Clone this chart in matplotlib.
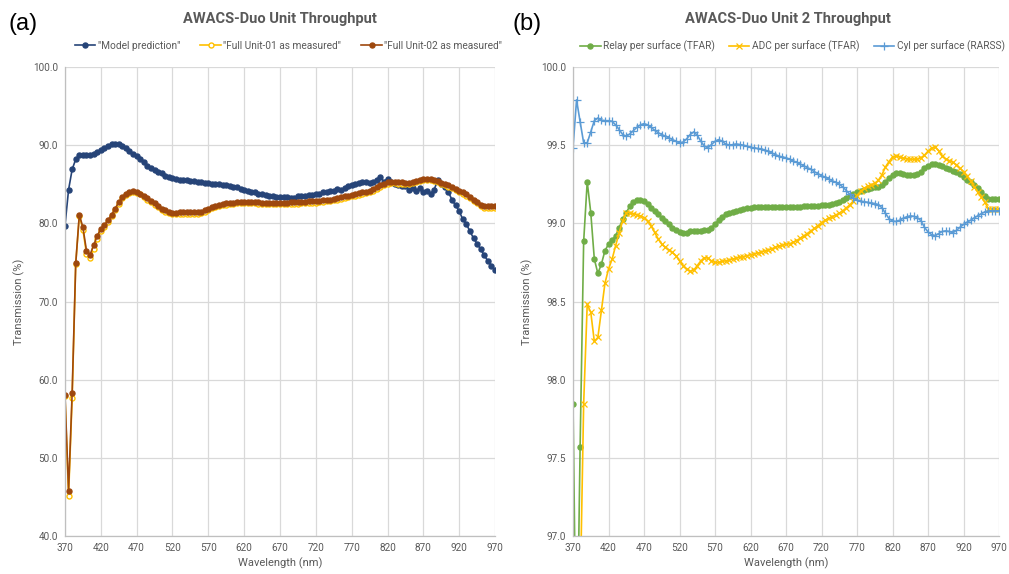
from __future__ import annotations

import matplotlib

matplotlib.use("Agg")
import matplotlib.pyplot as plt  # noqa: E402
import numpy as np  # noqa: E402
from matplotlib.ticker import FormatStrFormatter, MultipleLocator  # noqa: E402

# wavelength grid, 5 nm steps
wavelength = np.arange(370, 971, 5)
wavelength_ticks = [370, 420, 470, 520, 570, 620, 670, 720, 770, 820, 870, 920, 970]

# (a) full-unit throughput, %
model_prediction = [
    79.7, 84.3, 86.9, 88.2, 88.7, 88.8, 88.8, 88.8, 88.9, 89.1,
    89.4, 89.6, 89.9, 90.1, 90.2, 90.1, 89.9, 89.6, 89.3, 88.9,
    88.6, 88.2, 87.8, 87.4, 87.1, 86.8, 86.6, 86.4, 86.1, 85.9,
    85.75, 85.7, 85.6, 85.5, 85.5, 85.4, 85.4, 85.3, 85.35, 85.2,
    85.15, 85.1, 85.05, 85.05, 84.95, 84.9, 84.8, 84.7, 84.6, 84.45,
    84.3, 84.2, 84.05, 83.95, 83.8, 83.7, 83.6, 83.55, 83.45, 83.4,
    83.4, 83.35, 83.35, 83.3, 83.25, 83.45, 83.45, 83.5, 83.6, 83.65,
    83.75, 83.8, 83.95, 84.0, 84.1, 84.2, 84.45, 84.3, 84.5, 84.75,
    84.9, 85.05, 85.15, 85.25, 85.35, 85.2, 85.3, 85.5, 85.9, 85.35,
    85.7, 85.3, 85.1, 84.9, 84.75, 84.8, 84.3, 84.5, 84.2, 84.5,
    84.0, 84.1, 83.8, 84.3, 85.5, 85.0, 84.6, 84.0, 83.0, 82.3,
    81.6, 80.5, 79.9, 79.0, 78.1, 77.4, 76.7, 75.9, 75.2, 74.6,
    74.0,
]
unit01_measured = [
    57.85, 45.1, 57.7, 74.8, 81.0, 79.2, 76.1, 75.6, 76.7, 78.0,
    79.0, 79.5, 80.2, 80.9, 81.7, 82.5, 83.2, 83.65, 83.9, 84.0,
    83.9, 83.7, 83.4, 83.05, 82.7, 82.4, 82.05, 81.75, 81.5, 81.3,
    81.15, 81.15, 81.2, 81.25, 81.25, 81.2, 81.2, 81.2, 81.3, 81.45,
    81.7, 81.95, 82.1, 82.25, 82.3, 82.4, 82.45, 82.5, 82.55, 82.55,
    82.55, 82.55, 82.55, 82.55, 82.52, 82.5, 82.48, 82.47, 82.46, 82.45,
    82.44, 82.45, 82.47, 82.5, 82.52, 82.54, 82.56, 82.58, 82.6, 82.62,
    82.65, 82.7, 82.75, 82.8, 82.85, 82.95, 83.05, 83.15, 83.25, 83.35,
    83.45, 83.55, 83.65, 83.75, 83.85, 84.0, 84.2, 84.45, 84.7, 84.95,
    85.1, 85.15, 85.15, 85.1, 85.1, 85.05, 85.1, 85.2, 85.3, 85.45,
    85.55, 85.6, 85.55, 85.45, 85.3, 85.1, 84.9, 84.7, 84.5, 84.25,
    84.0, 83.75, 83.5, 83.2, 82.85, 82.55, 82.2, 82.0, 82.0, 82.0,
    82.0,
]
unit02_measured = [
    58.1, 45.8, 58.3, 74.9, 81.1, 79.5, 76.5, 76.0, 77.2, 78.4,
    79.3, 79.75, 80.4, 81.1, 81.9, 82.7, 83.35, 83.8, 84.0, 84.1,
    84.0, 83.8, 83.5, 83.2, 82.85, 82.55, 82.2, 81.9, 81.65, 81.5,
    81.35, 81.35, 81.45, 81.5, 81.5, 81.5, 81.45, 81.45, 81.5, 81.65,
    81.85, 82.1, 82.25, 82.4, 82.45, 82.55, 82.6, 82.65, 82.7, 82.7,
    82.7, 82.7, 82.7, 82.7, 82.68, 82.66, 82.65, 82.64, 82.63, 82.62,
    82.6, 82.62, 82.65, 82.7, 82.72, 82.74, 82.76, 82.78, 82.8, 82.82,
    82.85, 82.9, 82.95, 83.0, 83.05, 83.15, 83.25, 83.35, 83.45, 83.55,
    83.65, 83.75, 83.85, 83.95, 84.05, 84.2, 84.4, 84.65, 84.9, 85.1,
    85.25, 85.3, 85.3, 85.25, 85.25, 85.2, 85.2, 85.3, 85.4, 85.55,
    85.65, 85.7, 85.65, 85.55, 85.4, 85.2, 85.0, 84.85, 84.7, 84.45,
    84.2, 83.95, 83.7, 83.4, 83.05, 82.75, 82.4, 82.2, 82.2, 82.2,
    82.2,
]

# (b) Unit 2 per-surface transmission, %
relay_per_surface = [
    97.846, 96.0, 97.567, 98.884, 99.266, 99.069, 98.772, 98.68, 98.74, 98.825,
    98.867, 98.893, 98.92, 98.973, 99.027, 99.069, 99.11, 99.137, 99.148, 99.148,
    99.14, 99.122, 99.1, 99.08, 99.058, 99.037, 99.016, 98.995, 98.973, 98.956,
    98.946, 98.94, 98.94, 98.948, 98.952, 98.954, 98.954, 98.956, 98.96, 98.973,
    98.995, 99.02, 99.04, 99.058, 99.069, 99.075, 99.08, 99.086, 99.092, 99.097,
    99.1, 99.103, 99.105, 99.107, 99.107, 99.107, 99.107, 99.107, 99.107, 99.106,
    99.105, 99.105, 99.105, 99.105, 99.106, 99.108, 99.11, 99.111, 99.112, 99.113,
    99.115, 99.117, 99.12, 99.123, 99.128, 99.137, 99.148, 99.16, 99.175, 99.187,
    99.198, 99.206, 99.213, 99.22, 99.226, 99.23, 99.235, 99.247, 99.265, 99.29,
    99.31, 99.322, 99.323, 99.317, 99.312, 99.31, 99.311, 99.317, 99.33, 99.352,
    99.367, 99.378, 99.381, 99.374, 99.364, 99.355, 99.346, 99.337, 99.327, 99.315,
    99.298, 99.28, 99.263, 99.245, 99.225, 99.2, 99.175, 99.158, 99.154, 99.155,
    99.158,
]
adc_per_surface = [
    96.3, 95.9, 96.6, 97.846, 98.481, 98.432, 98.245, 98.27, 98.443, 98.617,
    98.708, 98.77, 98.857, 98.94, 99.016, 99.069, 99.069, 99.063, 99.054, 99.048,
    99.037, 99.016, 98.984, 98.942, 98.9, 98.867, 98.846, 98.83, 98.814, 98.793,
    98.76, 98.73, 98.708, 98.693, 98.7, 98.73, 98.76, 98.78, 98.778, 98.76,
    98.75, 98.75, 98.757, 98.76, 98.767, 98.772, 98.778, 98.782, 98.787, 98.793,
    98.8, 98.804, 98.81, 98.816, 98.825, 98.83, 98.838, 98.846, 98.855, 98.86,
    98.865, 98.87, 98.878, 98.89, 98.905, 98.92, 98.935, 98.952, 98.968, 98.985,
    99.005, 99.02, 99.033, 99.043, 99.053, 99.065, 99.08, 99.1, 99.118, 99.145,
    99.178, 99.205, 99.225, 99.237, 99.247, 99.257, 99.275, 99.31, 99.36, 99.395,
    99.425, 99.43, 99.424, 99.418, 99.413, 99.41, 99.41, 99.41, 99.42, 99.436,
    99.462, 99.482, 99.49, 99.465, 99.43, 99.412, 99.402, 99.39, 99.375, 99.352,
    99.33, 99.3, 99.272, 99.235, 99.2, 99.17, 99.135, 99.095, 99.09, 99.09,
    99.09,
]
cyl_per_surface = [
    99.483, 99.79, 99.65, 99.515, 99.515, 99.585, 99.657, 99.674, 99.66, 99.657,
    99.657, 99.653, 99.63, 99.6, 99.568, 99.557, 99.572, 99.593, 99.615, 99.63,
    99.638, 99.63, 99.615, 99.595, 99.58, 99.568, 99.557, 99.547, 99.536, 99.525,
    99.515, 99.52, 99.54, 99.568, 99.585, 99.564, 99.525, 99.494, 99.483, 99.504,
    99.525, 99.536, 99.525, 99.508, 99.5, 99.504, 99.508, 99.504, 99.5, 99.494,
    99.487, 99.483, 99.479, 99.475, 99.47, 99.46, 99.45, 99.44, 99.43, 99.424,
    99.42, 99.41, 99.40, 99.39, 99.38, 99.368, 99.357, 99.345, 99.33, 99.318,
    99.305, 99.295, 99.284, 99.273, 99.262, 99.25, 99.233, 99.21, 99.185, 99.163,
    99.15, 99.143, 99.138, 99.135, 99.13, 99.127, 99.12, 99.1, 99.065, 99.03,
    99.015, 99.012, 99.02, 99.033, 99.042, 99.048, 99.045, 99.037, 99.017, 98.975,
    98.945, 98.928, 98.922, 98.935, 98.948, 98.952, 98.948, 98.94, 98.955, 98.975,
    98.993, 99.008, 99.02, 99.035, 99.048, 99.062, 99.073, 99.08, 99.08, 99.08,
    99.08,
]

TEXT_GREY = "#595959"
GRID_GREY = "#D9D9D9"
AXIS_GREY = "#BFBFBF"

plt.rcParams["font.family"] = ["Roboto", "DejaVu Sans"]


def _style_axes(ax: plt.Axes, y_min: float, y_max: float, y_step: float,
                legend_x: float, col_gap: float) -> None:
    ax.set_xlim(370, 970)
    ax.set_ylim(y_min, y_max)
    ax.set_xticks(wavelength_ticks)
    ax.yaxis.set_major_locator(MultipleLocator(y_step))
    ax.yaxis.set_major_formatter(FormatStrFormatter("%.1f"))
    ax.grid(color=GRID_GREY, linewidth=0.9)
    ax.set_axisbelow(True)
    for side in ("top", "right"):
        ax.spines[side].set_visible(False)
    for side in ("left", "bottom"):
        ax.spines[side].set_color(AXIS_GREY)
        ax.spines[side].set_linewidth(0.9)
    ax.tick_params(length=0, pad=5, labelsize=7.2, labelcolor=TEXT_GREY)
    ax.set_xlabel("Wavelength (nm)", fontsize=8, color=TEXT_GREY, labelpad=3)
    ax.set_ylabel("Transmission (%)", fontsize=8, color=TEXT_GREY, labelpad=6)
    ax.legend(
        loc="center",
        bbox_to_anchor=(legend_x, 1.045),
        ncol=3,
        frameon=False,
        fontsize=7.3,
        labelcolor=TEXT_GREY,
        handlelength=2.0,
        handletextpad=0.25,
        columnspacing=col_gap,
        borderaxespad=0,
    )


def main() -> None:
    fig = plt.figure(figsize=(10.09, 5.74), dpi=100)
    ax_a = fig.add_axes([0.0644, 0.0662, 0.4262, 0.817])
    ax_b = fig.add_axes([0.5679, 0.0662, 0.4222, 0.817])

    ax_a.plot(wavelength, model_prediction, color="#264478", marker="o",
              markersize=3.6, linewidth=1.2, label='"Model prediction"')
    ax_a.plot(wavelength, unit01_measured, color="#FFC000", marker="o",
              markersize=3.6, markerfacecolor="white", markeredgewidth=1.0,
              linewidth=1.2, label='"Full Unit-01 as measured"')
    ax_a.plot(wavelength, unit02_measured, color="#9E480E", marker="o",
              markersize=3.6, linewidth=1.2, label='"Full Unit-02 as measured"')
    _style_axes(ax_a, 40, 100, 10, legend_x=0.52, col_gap=2.0)

    ax_b.plot(wavelength, relay_per_surface, color="#70AD47", marker="o",
              markersize=3.6, linewidth=1.2, label="Relay per surface (TFAR)")
    ax_b.plot(wavelength, adc_per_surface, color="#FFC000", marker="x",
              markersize=4.2, markeredgewidth=0.9, linewidth=1.2,
              label="ADC per surface (TFAR)")
    ax_b.plot(wavelength, cyl_per_surface, color="#5B9BD5", marker="+",
              markersize=5.5, markeredgewidth=0.9, linewidth=1.2,
              label="Cyl per surface (RARSS)")
    _style_axes(ax_b, 97, 100, 0.5, legend_x=0.515, col_gap=1.4)

    fig.text(280 / 1009, 1 - 19 / 574, "AWACS-Duo Unit Throughput",
             ha="center", va="center", fontsize=10.5, fontweight="bold", color=TEXT_GREY)
    fig.text(788 / 1009, 1 - 19 / 574, "AWACS-Duo Unit 2 Throughput",
             ha="center", va="center", fontsize=10.5, fontweight="bold", color=TEXT_GREY)
    fig.text(8 / 1009, 1 - 24 / 574, "(a)", ha="left", va="center", fontsize=17,
             family=["Liberation Sans", "DejaVu Sans"], color="black")
    fig.text(512 / 1009, 1 - 24 / 574, "(b)", ha="left", va="center", fontsize=17,
             family=["Liberation Sans", "DejaVu Sans"], color="black")

    fig.savefig("out.png", dpi=100)
    plt.close(fig)


if __name__ == "__main__":
    main()
